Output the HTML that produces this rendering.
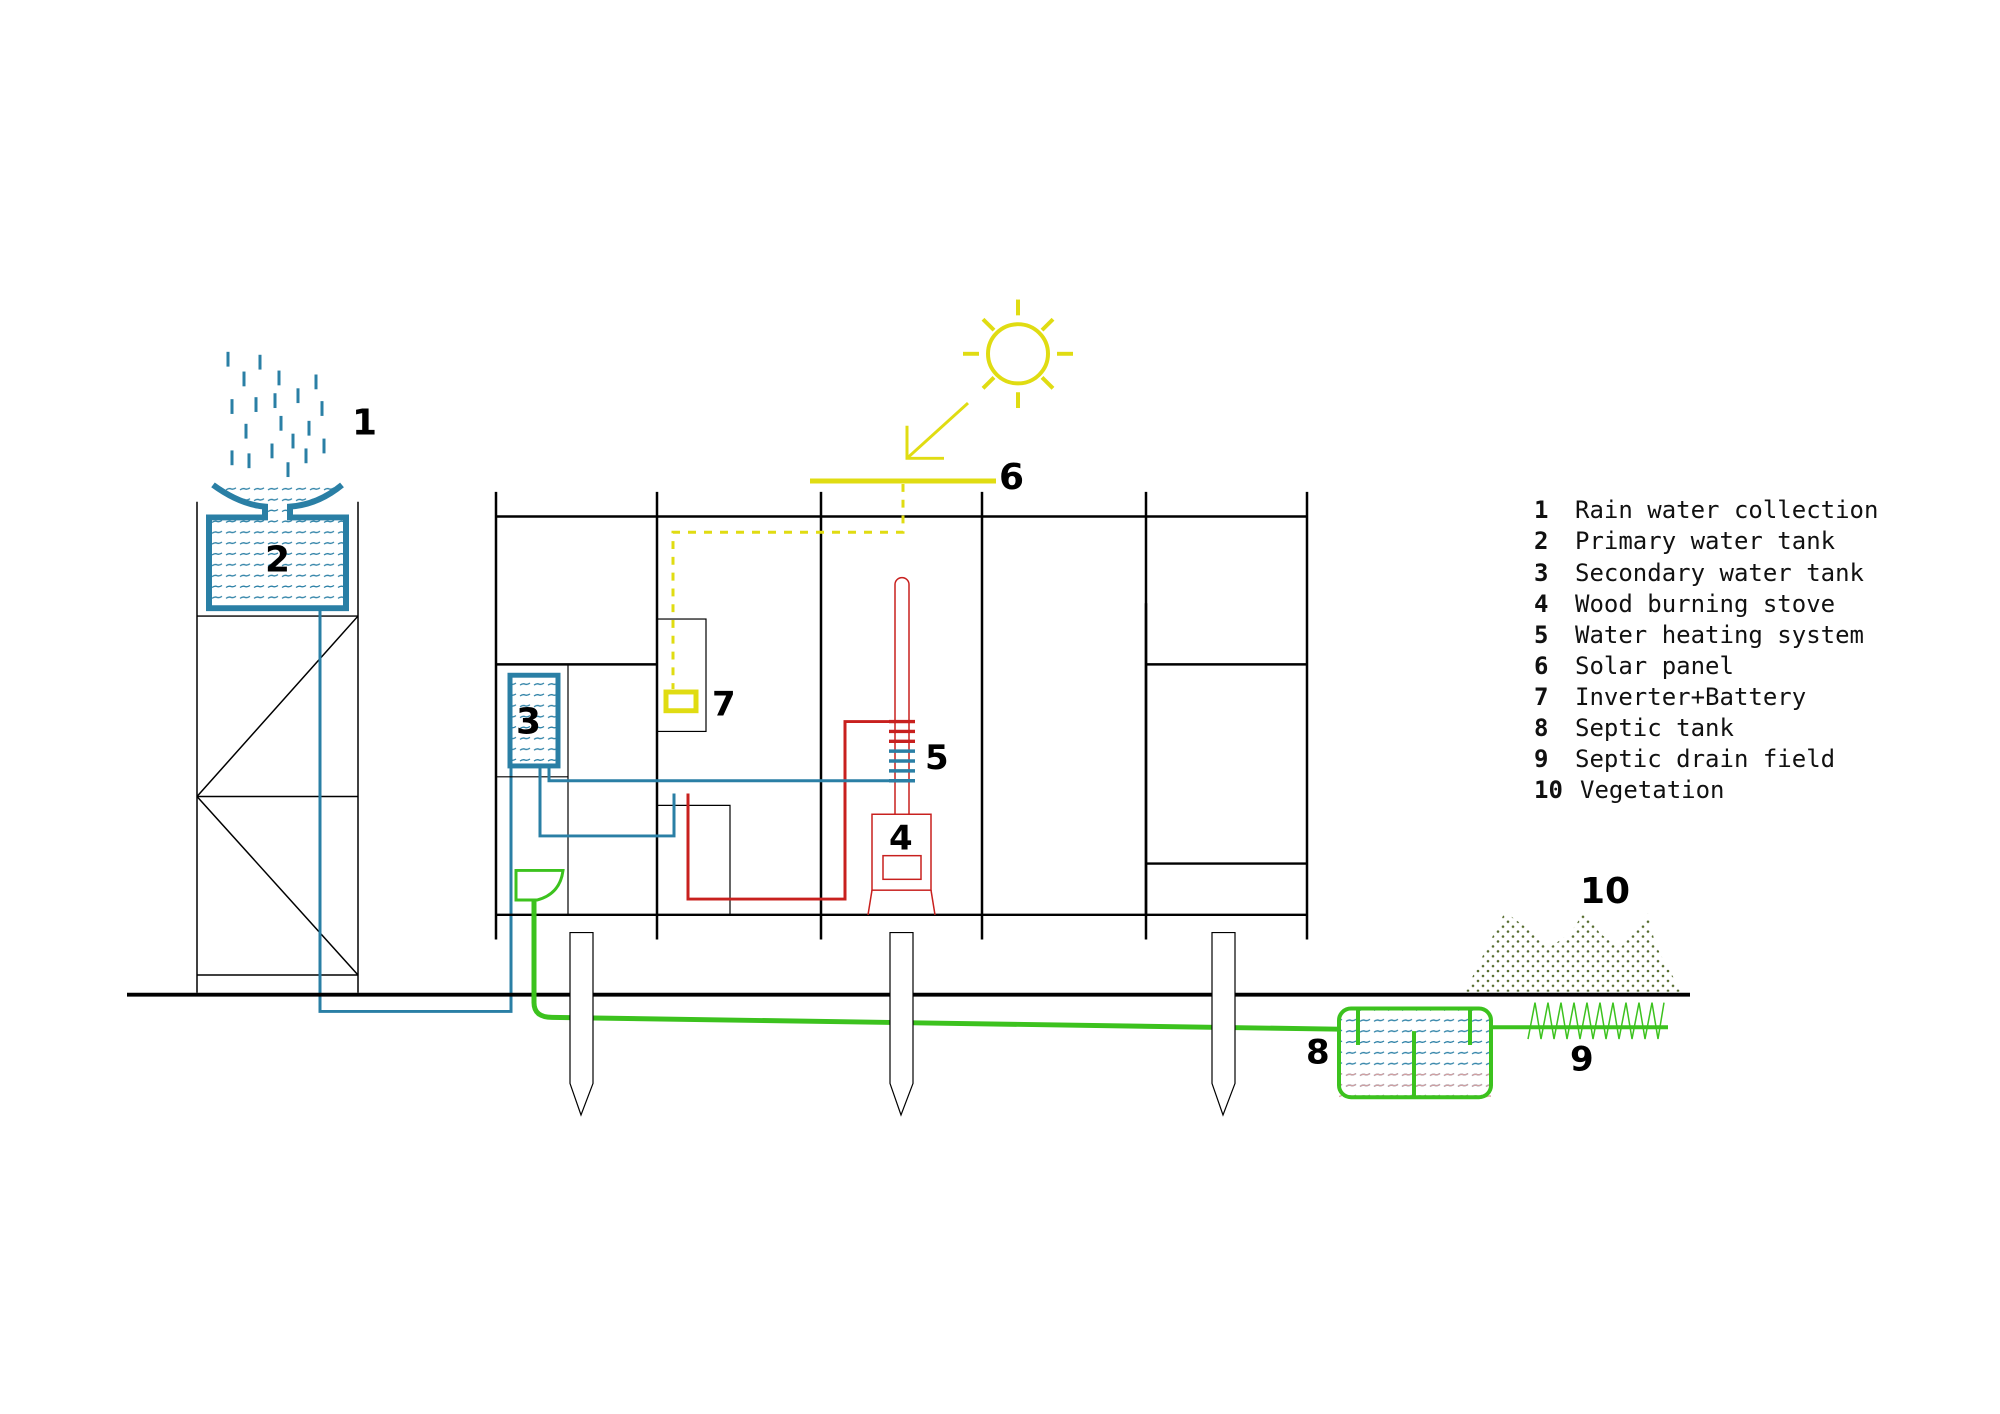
<!DOCTYPE html>
<html><head><meta charset="utf-8"><style>
html,body{margin:0;padding:0;background:#fff;}
svg{display:block;}
.n{font-family:"DejaVu Sans","Liberation Sans",sans-serif;font-weight:bold;fill:#000;}
.lg{font-family:"DejaVu Sans Mono","Liberation Mono",monospace;font-size:24px;fill:#111;}
</style></head><body>
<svg width="2000" height="1414" viewBox="0 0 2000 1414" xmlns="http://www.w3.org/2000/svg">
<defs>
<pattern id="wb" width="14" height="11" patternUnits="userSpaceOnUse">
<path d="M2 6 q3 -2 5 -1 t5 -1" stroke="#2a7fa5" stroke-width="1.3" fill="none"/>
</pattern>
<pattern id="wr" width="14" height="11" patternUnits="userSpaceOnUse">
<path d="M2 6 q3 -2 5 -1 t5 -1" stroke="#d9a0a0" stroke-width="1.3" fill="none"/>
</pattern>
<pattern id="veg" width="10" height="10" patternUnits="userSpaceOnUse">
<circle cx="3" cy="3" r="1.3" fill="#556b2f"/><circle cx="8" cy="8" r="1.3" fill="#556b2f"/>
</pattern>
</defs>
<rect width="2000" height="1414" fill="#fff"/>

<g transform="translate(0,480) scale(1,0.986) translate(0,-480)">
<!-- rain -->
<g stroke="#2a7fa5" stroke-width="3">
<line x1="228" y1="350" x2="228" y2="365"/><line x1="260" y1="353" x2="260" y2="368"/>
<line x1="244" y1="370" x2="244" y2="385"/><line x1="279" y1="369" x2="279" y2="384"/>
<line x1="316" y1="373" x2="316" y2="388"/><line x1="298" y1="387" x2="298" y2="402"/>
<line x1="232" y1="398" x2="232" y2="413"/><line x1="256" y1="396" x2="256" y2="411"/>
<line x1="275" y1="392" x2="275" y2="407"/><line x1="322" y1="400" x2="322" y2="415"/>
<line x1="246" y1="423" x2="246" y2="438"/><line x1="281" y1="415" x2="281" y2="430"/>
<line x1="309" y1="420" x2="309" y2="435"/><line x1="293" y1="433" x2="293" y2="448"/>
<line x1="232" y1="450" x2="232" y2="465"/><line x1="249" y1="453" x2="249" y2="468"/>
<line x1="272" y1="443" x2="272" y2="458"/><line x1="306" y1="448" x2="306" y2="463"/>
<line x1="324" y1="438" x2="324" y2="453"/><line x1="288" y1="462" x2="288" y2="477"/>
</g>
<text class="n" x="352" y="434" font-size="36">1</text>

<!-- tower -->
<g stroke="#000" stroke-width="1.5" fill="none">
<line x1="197" y1="502" x2="197" y2="1000"/><line x1="358" y1="502" x2="358" y2="1000"/>
<line x1="197" y1="618" x2="358" y2="618"/><line x1="197" y1="801" x2="358" y2="801"/>
<line x1="197" y1="982" x2="358" y2="982"/>
<line x1="358" y1="618" x2="197" y2="801"/><line x1="197" y1="801" x2="358" y2="982"/>
</g>
<path d="M213 485 Q240 505 265 507 L265 518 L209 518 L209 610 L346 610 L346 518 L290 518 L290 507 Q318 505 342 485 Z" fill="url(#wb)"/>
<path d="M213 485 Q240 505 265 507 L265 518 L209 518 L209 610 L346 610 L346 518 L290 518 L290 507 Q318 505 342 485" fill="none" stroke="#2a7fa5" stroke-width="6"/>
<text class="n" x="265" y="573" font-size="36">2</text>
<polyline points="320,610 320,1019 511,1019 511,767" fill="none" stroke="#2a7fa5" stroke-width="3"/>

<!-- ground -->
<line x1="127" y1="1002" x2="1690" y2="1002" stroke="#000" stroke-width="4"/>

<!-- building -->
<g stroke="#000" fill="none">
<line x1="496" y1="517" x2="1307" y2="517" stroke-width="2.5"/>
<line x1="496" y1="921" x2="1307" y2="921" stroke-width="2.5"/>
<g stroke-width="2.5">
<line x1="496" y1="492" x2="496" y2="946"/><line x1="657" y1="492" x2="657" y2="946"/>
<line x1="821" y1="492" x2="821" y2="946"/><line x1="982" y1="492" x2="982" y2="946"/>
<line x1="1146" y1="492" x2="1146" y2="946"/><line x1="1307" y1="492" x2="1307" y2="946"/>
</g>
<line x1="657" y1="517" x2="657" y2="921" stroke-width="1.2"/>
<line x1="821" y1="517" x2="821" y2="921" stroke-width="1.2"/>
<line x1="982" y1="517" x2="982" y2="921" stroke-width="1.2"/>
<line x1="1146" y1="517" x2="1146" y2="605" stroke-width="1.2"/>
<line x1="1146" y1="605" x2="1146" y2="921" stroke-width="2.5"/>
<line x1="496" y1="667" x2="657" y2="667" stroke-width="2.5"/>
<line x1="1146" y1="667" x2="1307" y2="667" stroke-width="2.5"/>
<line x1="1146" y1="869" x2="1307" y2="869" stroke-width="2.5"/>
<g stroke-width="1.2">
<polyline points="496,667 568,667 568,921"/>
<line x1="496" y1="781" x2="568" y2="781"/>
<rect x="657" y="621" width="49" height="114"/>
<polyline points="657,810 730,810 730,921"/>
</g>
</g>

<rect x="510" y="678" width="48" height="92" fill="url(#wb)" stroke="#2a7fa5" stroke-width="5"/>
<text class="n" x="516" y="737" font-size="36">3</text>

<!-- solar -->
<line x1="810" y1="481" x2="996" y2="481" stroke="#e0dc12" stroke-width="5"/>
<text class="n" x="999" y="489" font-size="36">6</text>
<polyline points="903,484 903,533 673,533 673,692" fill="none" stroke="#e0dc12" stroke-width="3" stroke-dasharray="8,8"/>
<rect x="666" y="695" width="30" height="19" fill="none" stroke="#e0dc12" stroke-width="5"/>
<text class="n" x="712" y="719" font-size="34">7</text>
<g stroke="#e0dc12" stroke-width="4" fill="none">
<circle cx="1018" cy="352" r="30"/>
<line x1="1018" y1="297" x2="1018" y2="313"/><line x1="1018" y1="391" x2="1018" y2="407"/>
<line x1="963" y1="352" x2="979" y2="352"/><line x1="1057" y1="352" x2="1073" y2="352"/>
<line x1="983" y1="317" x2="994" y2="328"/><line x1="1053" y1="317" x2="1042" y2="328"/>
<line x1="983" y1="387" x2="994" y2="376"/><line x1="1053" y1="387" x2="1042" y2="376"/>
<line x1="968" y1="402" x2="907" y2="458" stroke-width="3"/>
<polyline points="907,425 907,458 944,458" stroke-width="3"/>
</g>

<!-- stove -->
<g stroke="#c8201e" fill="none" stroke-width="1.5">
<path d="M895 819 L895 586 A7 7 0 0 1 909 586 L909 819"/>
<rect x="872" y="819" width="59" height="77"/>
<rect x="883" y="861" width="38" height="24"/>
<line x1="872" y1="896" x2="868" y2="921"/><line x1="931" y1="896" x2="935" y2="921"/>
</g>
<text class="n" x="889" y="855" font-size="34">4</text>
<g stroke="#c8201e" stroke-width="3.5">
<line x1="889" y1="725" x2="915" y2="725"/><line x1="889" y1="735" x2="915" y2="735"/><line x1="889" y1="745" x2="915" y2="745"/>
</g>
<g stroke="#2a7fa5" stroke-width="3.5">
<line x1="889" y1="755" x2="915" y2="755"/><line x1="889" y1="765" x2="915" y2="765"/><line x1="889" y1="775" x2="915" y2="775"/><line x1="889" y1="785" x2="915" y2="785"/>
</g>
<text class="n" x="925" y="773" font-size="34">5</text>
<polyline points="915,725 845,725 845,905 688,905 688,798" fill="none" stroke="#c8201e" stroke-width="3"/>
<polyline points="915,785 549,785 549,770" fill="none" stroke="#2a7fa5" stroke-width="3"/>
<polyline points="540,770 540,841 674,841 674,798" fill="none" stroke="#2a7fa5" stroke-width="3"/>

<path d="M516 876 L563 876 Q560 900 537 906 L516 906 Z" fill="none" stroke="#3cc21e" stroke-width="3"/>
<path d="M534 906 L534 1010 Q534 1025 552 1025 L1340 1037" fill="none" stroke="#3cc21e" stroke-width="5"/>

<g stroke="#000" stroke-width="1.2" fill="#fff">
<path d="M570 939 L593 939 L593 1092 L581 1124 L570 1092 Z"/>
<path d="M890 939 L913 939 L913 1092 L901 1124 L890 1092 Z"/>
<path d="M1212 939 L1235 939 L1235 1092 L1223 1124 L1212 1092 Z"/>
</g>

<rect x="1339" y="1016" width="152" height="90" rx="12" fill="url(#wb)"/>
<rect x="1339" y="1080" width="152" height="26" fill="url(#wr)"/>
<rect x="1339" y="1016" width="152" height="90" rx="12" fill="none" stroke="#3cc21e" stroke-width="4"/>
<g stroke="#3cc21e" stroke-width="4">
<line x1="1358" y1="1016" x2="1358" y2="1053"/><line x1="1470" y1="1016" x2="1470" y2="1053"/>
<line x1="1414" y1="1039" x2="1414" y2="1106"/>
<line x1="1491" y1="1035" x2="1668" y2="1035"/>
</g>
<polyline points="1528,1047 1535,1010 1541,1047 1548,1010 1554,1047 1561,1010 1567,1047 1574,1010 1580,1047 1587,1010 1593,1047 1600,1010 1606,1047 1613,1010 1619,1047 1626,1010 1632,1047 1639,1010 1645,1047 1652,1010 1658,1047 1664,1010" fill="none" stroke="#3cc21e" stroke-width="1.5"/>
<text class="n" x="1306" y="1072" font-size="34">8</text>
<text class="n" x="1570" y="1079" font-size="34">9</text>

<path d="M1465 999 L1484 960 L1505 918 L1525 933 L1548 955 L1570 940 L1585 917 L1600 940 L1620 955 L1640 930 L1648 919 L1655 950 L1665 970 L1682 999 Z" fill="url(#veg)"/>
<text class="n" x="1580" y="909" font-size="36">10</text>
</g>

<g>
<text class="lg" x="1534" y="518" font-weight="bold">1</text><text class="lg" x="1575" y="518">Rain water collection</text>
<text class="lg" x="1534" y="549" font-weight="bold">2</text><text class="lg" x="1575" y="549">Primary water tank</text>
<text class="lg" x="1534" y="581" font-weight="bold">3</text><text class="lg" x="1575" y="581">Secondary water tank</text>
<text class="lg" x="1534" y="612" font-weight="bold">4</text><text class="lg" x="1575" y="612">Wood burning stove</text>
<text class="lg" x="1534" y="643" font-weight="bold">5</text><text class="lg" x="1575" y="643">Water heating system</text>
<text class="lg" x="1534" y="674" font-weight="bold">6</text><text class="lg" x="1575" y="674">Solar panel</text>
<text class="lg" x="1534" y="705" font-weight="bold">7</text><text class="lg" x="1575" y="705">Inverter+Battery</text>
<text class="lg" x="1534" y="736" font-weight="bold">8</text><text class="lg" x="1575" y="736">Septic tank</text>
<text class="lg" x="1534" y="767" font-weight="bold">9</text><text class="lg" x="1575" y="767">Septic drain field</text>
<text class="lg" x="1534" y="798" font-weight="bold">10</text><text class="lg" x="1580" y="798">Vegetation</text>
</g>
</svg>
</body></html>
